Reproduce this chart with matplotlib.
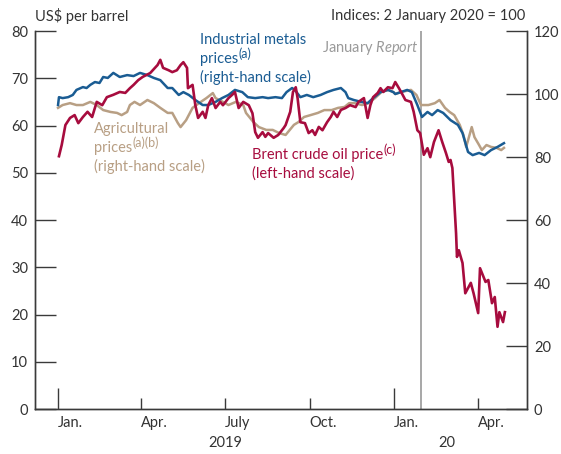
import matplotlib
matplotlib.use("Agg")
import matplotlib.pyplot as plt
import pandas as pd

plt.rcParams['font.family'] = ['Lato', 'DejaVu Sans']
plt.rcParams['mathtext.fontset'] = 'custom'
plt.rcParams['mathtext.rm'] = 'Lato'
plt.rcParams['mathtext.it'] = 'Lato:italic'

# Brent crude oil price, US$ per barrel (left-hand scale)
brent_dates = [
    "2019-01-02", "2019-01-05", "2019-01-09", "2019-01-14", "2019-01-19", "2019-01-23", "2019-01-28",
    "2019-02-02", "2019-02-07", "2019-02-12", "2019-02-18", "2019-02-23", "2019-03-02", "2019-03-09",
    "2019-03-15", "2019-03-20", "2019-03-24", "2019-03-29", "2019-04-03", "2019-04-11", "2019-04-19",
    "2019-04-22", "2019-04-25", "2019-05-01", "2019-05-05", "2019-05-10", "2019-05-14", "2019-05-17",
    "2019-05-21", "2019-05-22", "2019-05-27", "2019-05-30", "2019-06-02", "2019-06-07", "2019-06-10",
    "2019-06-13", "2019-06-17", "2019-06-21", "2019-06-26", "2019-06-29", "2019-07-05", "2019-07-09",
    "2019-07-12", "2019-07-16", "2019-07-21", "2019-07-27", "2019-07-31", "2019-08-03", "2019-08-06",
    "2019-08-11", "2019-08-14", "2019-08-17", "2019-08-23", "2019-08-28", "2019-09-03", "2019-09-05",
    "2019-09-10", "2019-09-13", "2019-09-16", "2019-09-18", "2019-09-21", "2019-09-26", "2019-09-30",
    "2019-10-04", "2019-10-07", "2019-10-11", "2019-10-15", "2019-10-20", "2019-10-24", "2019-10-27",
    "2019-10-31", "2019-11-04", "2019-11-09", "2019-11-14", "2019-11-20", "2019-11-23", "2019-11-29",
    "2019-12-03", "2019-12-06", "2019-12-09", "2019-12-14", "2019-12-17", "2019-12-20", "2019-12-25",
    "2019-12-30", "2020-01-02", "2020-01-06", "2020-01-10", "2020-01-13", "2020-01-19", "2020-01-22",
    "2020-01-26", "2020-01-29", "2020-02-02", "2020-02-06", "2020-02-09", "2020-02-13", "2020-02-18",
    "2020-02-22", "2020-02-26", "2020-02-29", "2020-03-02", "2020-03-04", "2020-03-08", "2020-03-09",
    "2020-03-11", "2020-03-15", "2020-03-18", "2020-03-24", "2020-03-27", "2020-04-01", "2020-04-03",
    "2020-04-09", "2020-04-12", "2020-04-16", "2020-04-19", "2020-04-22", "2020-04-24", "2020-04-28",
    "2020-04-30",
]
brent_values = [
    53.5, 55.9, 60.1, 61.6, 62.2, 60.5, 61.8,
    62.9, 61.8, 65.0, 64.3, 66.0, 66.5, 67.1,
    66.9, 67.9, 68.6, 69.6, 70.3, 71.1, 72.8,
    73.9, 72.2, 71.7, 71.3, 71.7, 72.8, 73.4,
    72.2, 67.9, 68.6, 64.3, 61.6, 62.9, 61.6,
    64.3, 65.8, 63.7, 65.0, 64.3, 65.8, 66.5,
    67.1, 63.7, 65.0, 64.3, 62.6, 58.6, 57.4,
    58.6, 57.6, 58.4, 57.4, 58.0, 59.5, 60.1,
    62.9, 67.1, 68.1, 65.8, 60.7, 60.5, 58.4,
    59.0, 58.0, 59.7, 59.0, 60.7, 61.8, 62.9,
    61.8, 63.3, 63.7, 64.3, 63.9, 65.0, 65.8,
    61.6, 64.3, 66.0, 66.9, 67.9, 67.1, 68.1,
    67.9, 69.2, 67.9, 66.5, 65.4, 65.0, 62.9,
    59.0, 58.4, 53.8, 55.2, 53.3, 56.5, 59.0,
    56.5, 54.2, 52.3, 52.7, 51.0, 37.2, 32.2,
    33.6, 30.9, 24.5, 26.7, 24.5, 20.3, 29.8,
    26.9, 27.3, 22.4, 23.7, 17.4, 20.5, 18.4,
    20.5,
]

# Industrial metals prices, index (right-hand scale)
metals_dates = [
    "2019-01-01", "2019-01-02", "2019-01-06", "2019-01-12", "2019-01-17", "2019-01-21", "2019-01-28",
    "2019-02-01", "2019-02-05", "2019-02-10", "2019-02-15", "2019-02-19", "2019-02-24", "2019-03-02",
    "2019-03-09", "2019-03-17", "2019-03-24", "2019-03-31", "2019-04-08", "2019-04-15", "2019-04-22",
    "2019-04-30", "2019-05-05", "2019-05-12", "2019-05-17", "2019-05-23", "2019-05-30", "2019-06-07",
    "2019-06-13", "2019-06-21", "2019-06-28", "2019-07-05", "2019-07-12", "2019-07-20", "2019-07-26",
    "2019-08-03", "2019-08-11", "2019-08-17", "2019-08-25", "2019-09-01", "2019-09-06", "2019-09-12",
    "2019-09-15", "2019-09-21", "2019-09-28", "2019-10-05", "2019-10-13", "2019-10-20", "2019-10-27",
    "2019-11-04", "2019-11-09", "2019-11-12", "2019-11-18", "2019-11-26", "2019-12-03", "2019-12-09",
    "2019-12-17", "2019-12-25", "2019-12-31", "2020-01-02", "2020-01-08", "2020-01-15", "2020-01-20",
    "2020-01-26", "2020-01-31", "2020-02-06", "2020-02-11", "2020-02-17", "2020-02-23", "2020-03-02",
    "2020-03-10", "2020-03-15", "2020-03-21", "2020-03-26", "2020-04-02", "2020-04-08", "2020-04-15",
    "2020-04-22", "2020-04-29",
]
metals_values = [
    96.5, 99.0, 98.7, 99.0, 99.7, 101.3, 102.2,
    101.9, 102.9, 103.8, 103.5, 105.4, 105.1, 106.7,
    105.4, 106.0, 105.7, 106.7, 106.0, 105.1, 104.4,
    101.9, 101.9, 99.7, 100.6, 99.7, 98.1, 96.5,
    96.5, 97.5, 98.7, 99.7, 101.3, 100.6, 99.0,
    98.7, 99.0, 98.7, 99.0, 98.7, 100.6, 101.9,
    101.3, 99.0, 99.7, 99.0, 99.7, 100.6, 101.3,
    101.9, 100.6, 98.7, 98.1, 97.5, 97.1, 98.7,
    100.6, 101.3, 100.6, 100.0, 100.6, 101.3, 100.6,
    96.5, 92.7, 94.3, 93.3, 94.9, 94.0, 91.7,
    90.2, 87.6, 81.6, 80.6, 81.3, 80.6, 82.2,
    83.2, 84.4,
]

# Agricultural prices, index (right-hand scale)
agri_dates = [
    "2019-01-01", "2019-01-06", "2019-01-14", "2019-01-21", "2019-01-28", "2019-02-05", "2019-02-12",
    "2019-02-19", "2019-02-27", "2019-03-06", "2019-03-11", "2019-03-17", "2019-03-20", "2019-03-25",
    "2019-03-31", "2019-04-08", "2019-04-15", "2019-04-22", "2019-04-30", "2019-05-05", "2019-05-11",
    "2019-05-14", "2019-05-20", "2019-05-27", "2019-06-03", "2019-06-11", "2019-06-18", "2019-06-21",
    "2019-06-29", "2019-07-05", "2019-07-13", "2019-07-21", "2019-07-24", "2019-08-01", "2019-08-07",
    "2019-08-15", "2019-08-22", "2019-08-29", "2019-09-05", "2019-09-14", "2019-09-19", "2019-09-25",
    "2019-10-02", "2019-10-10", "2019-10-17", "2019-10-25", "2019-11-01", "2019-11-08", "2019-11-13",
    "2019-11-19", "2019-11-27", "2019-12-04", "2019-12-11", "2019-12-18", "2019-12-26", "2019-12-31",
    "2020-01-02", "2020-01-08", "2020-01-19", "2020-01-25", "2020-01-30", "2020-02-07", "2020-02-14",
    "2020-02-19", "2020-02-25", "2020-03-01", "2020-03-06", "2020-03-12", "2020-03-16", "2020-03-19",
    "2020-03-25", "2020-03-28", "2020-04-02", "2020-04-05", "2020-04-10", "2020-04-15", "2020-04-21",
    "2020-04-26", "2020-04-29",
]
agri_values = [
    95.6, 96.5, 97.1, 96.5, 96.5, 97.5, 96.5,
    94.9, 94.3, 94.0, 93.3, 94.3, 96.5, 97.5,
    96.5, 98.1, 97.1, 95.6, 94.0, 94.0, 90.8,
    89.5, 91.7, 95.6, 97.1, 98.7, 100.3, 98.7,
    97.5, 96.5, 97.5, 96.5, 94.0, 91.1, 89.5,
    88.6, 88.6, 87.6, 87.0, 90.2, 91.1, 92.7,
    93.3, 94.0, 94.9, 94.9, 95.6, 95.9, 97.1,
    97.1, 96.5, 97.1, 98.7, 100.6, 101.3, 100.6,
    100.0, 100.6, 101.3, 99.7, 96.5, 96.5, 97.1,
    98.1, 95.6, 94.3, 93.3, 90.2, 87.0, 83.2,
    89.5, 86.3, 83.8, 82.2, 83.8, 83.2, 82.9,
    82.2, 82.9,
]

report_date = "2020-01-30"
quarter_ticks = ["2019-04-01", "2019-07-01", "2019-10-01", "2020-04-01"]
year_ticks = ["2019-01-01", "2020-01-01"]
quarter_labels = ["Jan.", "Apr.", "July", "Oct.", "Jan.", "Apr."]
label_dates = ["2019-01-01", "2019-04-01", "2019-07-01", "2019-10-01", "2020-01-01", "2020-04-01"]

BLUE = '#1a5c93'
RED = '#a70c3e'
TAN = '#b89f84'
AXC = '#3a3a3a'
TXT = '#333333'
FS = 10.5


def series_label(ax, x, y, lines, color):
    """Multi-line label; each line is (text, superscript or None)."""
    for i, (txt, sup) in enumerate(lines):
        t = ax.annotate(txt, xy=(pd.Timestamp(x), y), xytext=(0, -i * 13.4),
                        textcoords='offset points', ha='left', va='center',
                        fontsize=FS, color=color)
        if sup:
            ax.annotate(sup, xy=(1, 0.45), xycoords=t, xytext=(0.3, 0),
                        textcoords='offset points', ha='left', va='bottom',
                        fontsize=9, color=color)


fig = plt.figure(figsize=(5.61, 4.54), dpi=100)
ax = fig.add_axes([0.0624, 0.0991, 0.877, 0.8326])
ax2 = ax.twinx()

ax2.plot(pd.to_datetime(agri_dates), agri_values, color=TAN, lw=1.8, zorder=2)
ax2.plot(pd.to_datetime(metals_dates), metals_values, color=BLUE, lw=1.8, zorder=3)
# Brent drawn on the twin so it sits on top, rescaled to the left axis
scale = 120 / 80
ax2.plot(pd.to_datetime(brent_dates), [v * scale for v in brent_values], color=RED, lw=1.9, zorder=4)

ax.set_ylim(0, 80)
ax2.set_ylim(0, 120)
ax.set_xlim(pd.Timestamp("2018-12-07"), pd.Timestamp("2020-05-24"))

ax.axvline(pd.Timestamp(report_date), color='#a0a0a0', lw=1.3, zorder=1)

for a in (ax, ax2):
    a.spines['top'].set_visible(False)
    for s in a.spines.values():
        s.set_color(AXC)
        s.set_linewidth(1.0)

ax.set_yticks(range(0, 81, 10))
ax2.set_yticks(range(0, 121, 20))
ax.tick_params(axis='y', direction='in', length=15, width=1, color=AXC, labelsize=FS,
               labelcolor=TXT, pad=5)
ax2.tick_params(axis='y', direction='in', length=15, width=1, color=AXC, labelsize=FS,
                labelcolor=TXT, pad=5)

ax.set_xticks(pd.to_datetime(year_ticks))
ax.set_xticks(pd.to_datetime(quarter_ticks), minor=True)
ax.tick_params(axis='x', which='major', direction='in', length=15, width=1, color=AXC, labelbottom=False)
ax.tick_params(axis='x', which='minor', direction='in', length=8, width=1, color=AXC, labelbottom=False)

trans = ax.get_xaxis_transform()
for d, lab in zip(label_dates, quarter_labels):
    ax.text(pd.Timestamp(d), -0.037, lab, transform=trans, ha='left', va='center',
            fontsize=FS, color=TXT)
ax.text(pd.Timestamp("2019-07-01"), -0.089, "2019", transform=trans, ha='center', va='center',
        fontsize=FS, color=TXT)
ax.text(pd.Timestamp("2020-02-27"), -0.089, "20", transform=trans, ha='center', va='center',
        fontsize=FS, color=TXT)

fig.text(0.0624, 0.965, "US$ per barrel", ha='left', va='center', fontsize=FS, color=TXT)
fig.text(0.936, 0.965, "Indices: 2 January 2020 = 100", ha='right', va='center', fontsize=FS,
         color=TXT)

ax.text(pd.Timestamp("2020-01-27"), 76.3, "January $\\mathit{Report}$", ha='right', va='center',
        fontsize=FS, color='#9a9a9a')

series_label(ax, "2019-06-04", 78.0,
             [("Industrial metals", None), ("prices", "(a)"), ("(right-hand scale)", None)], BLUE)
series_label(ax, "2019-02-09", 59.2,
             [("Agricultural", None), ("prices", "(a)(b)"), ("(right-hand scale)", None)], TAN)
series_label(ax, "2019-07-30", 53.7,
             [("Brent crude oil price", "(c)"), ("(left-hand scale)", None)], RED)

fig.savefig("out.png", dpi=100)
